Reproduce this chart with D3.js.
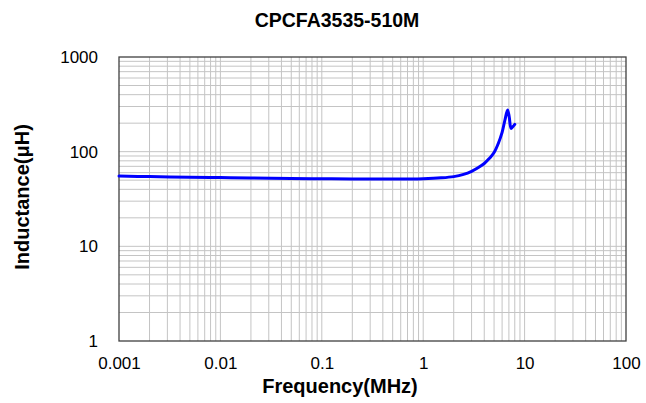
<!DOCTYPE html>
<html>
<head>
<meta charset="utf-8">
<script src="https://cdn.jsdelivr.net/npm/d3@7"></script>
<style>
  html, body { margin: 0; padding: 0; background: #fff; }
  svg { display: block; font-family: "Liberation Sans", Arial, sans-serif; }
</style>
</head>
<body>
<svg id="chart" width="646" height="403"></svg>
<script>
// ---- data ----
const title = "CPCFA3535-510M";
const xTitle = "Frequency(MHz)";
const yTitle = "Inductance(μH)";
const xTickValues = [0.001, 0.01, 0.1, 1, 10, 100];
const xTickLabels = ["0.001", "0.01", "0.1", "1", "10", "100"];
const yTickValues = [1, 10, 100, 1000];
const yTickLabels = ["1", "10", "100", "1000"];
const frequency = [0.001, 0.002, 0.005, 0.01, 0.02, 0.05, 0.1, 0.2, 0.5, 1, 1.5, 2, 2.5, 3, 3.5, 4, 4.5, 5, 5.5, 6, 6.4, 6.8, 7.05, 7.35, 7.64, 8.0];
const inductance = [55.2, 54.5, 53.7, 53.2, 52.7, 52.1, 51.8, 51.5, 51.4, 51.9, 52.9, 54.5, 57.5, 62, 68, 75, 85, 98, 122, 160, 216, 275, 234, 176, 183, 194];

// ---- layout ----
const W = 646, H = 403;
const margin = { left: 119, top: 57, right: 20, bottom: 62 };
const iw = W - margin.left - margin.right;
const ih = H - margin.top - margin.bottom;

const svg = d3.select("#chart");
const g = svg.append("g").attr("transform", `translate(${margin.left},${margin.top})`);

const x = d3.scaleLog().domain([0.001, 100]).range([0, iw]);
const y = d3.scaleLog().domain([1, 1000]).range([ih, 0]);

// grid values (1..9 per decade)
const xGrid = [];
for (let e = -3; e < 2; e++) for (let m = 1; m <= 9; m++) { const v = m * Math.pow(10, e); if (v > 0.001) xGrid.push(v); }
const yGrid = [];
for (let e = 0; e < 3; e++) for (let m = 1; m <= 9; m++) { const v = m * Math.pow(10, e); if (v > 1) yGrid.push(v); }

g.append("g").selectAll("line").data(xGrid).join("line")
  .attr("x1", d => x(d)).attr("x2", d => x(d))
  .attr("y1", 0).attr("y2", ih)
  .attr("stroke", "#c4c4c4").attr("stroke-width", 1);
g.append("g").selectAll("line").data(yGrid).join("line")
  .attr("y1", d => y(d)).attr("y2", d => y(d))
  .attr("x1", 0).attr("x2", iw)
  .attr("stroke", "#c4c4c4").attr("stroke-width", 1);

// border
g.append("rect").attr("x", 0).attr("y", 0).attr("width", iw).attr("height", ih)
  .attr("fill", "none").attr("stroke", "#404040").attr("stroke-width", 1.3);

// axes (labels only)
const xAxis = d3.axisBottom(x).tickValues(xTickValues)
  .tickFormat((d, i) => xTickLabels[i]).tickSize(0).tickPadding(16);
const gx = g.append("g").attr("transform", `translate(0,${ih})`).call(xAxis);
gx.select(".domain").remove();
gx.selectAll("text").attr("font-size", 17).attr("fill", "#000")
  .attr("font-family", "Liberation Sans, Arial, sans-serif");

const yAxis = d3.axisLeft(y).tickValues(yTickValues)
  .tickFormat((d, i) => yTickLabels[i]).tickSize(0).tickPadding(21);
const gy = g.append("g").call(yAxis);
gy.select(".domain").remove();
gy.selectAll("text").attr("font-size", 17).attr("fill", "#000")
  .attr("font-family", "Liberation Sans, Arial, sans-serif");

// curve
const pts = frequency.map((f, i) => [f, inductance[i]]);
const line = d3.line().x(d => x(d[0])).y(d => y(d[1])).curve(d3.curveCatmullRom.alpha(0.5));
g.append("path").datum(pts).attr("d", line)
  .attr("fill", "none").attr("stroke", "#0000ff").attr("stroke-width", 3)
  .attr("stroke-linejoin", "round").attr("stroke-linecap", "round");

// titles
svg.append("text").attr("x", 337).attr("y", 27).attr("text-anchor", "middle")
  .attr("font-size", 19.5).attr("font-weight", "bold").text(title);
svg.append("text").attr("x", 340).attr("y", 393).attr("text-anchor", "middle")
  .attr("font-size", 20).attr("font-weight", "bold").text(xTitle);
svg.append("text").attr("transform", "translate(29,197) rotate(-90)").attr("text-anchor", "middle")
  .attr("font-size", 20).attr("font-weight", "bold").text(yTitle);
</script>
</body>
</html>
